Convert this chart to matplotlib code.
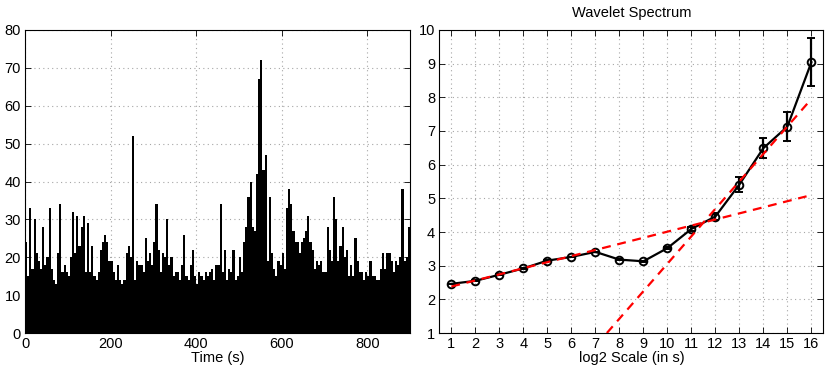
import matplotlib.pyplot as plt
import numpy as np

plt.rcParams['font.family'] = ['Liberation Sans', 'DejaVu Sans']

# Left panel: counts per 5 s bin
bin_width = 5
counts = [
    24, 15, 33, 17, 30, 21, 19, 17, 28, 18,   # 0-45
    20, 33, 17, 14, 13, 21, 34, 16, 18, 16,   # 50-95
    15, 20, 32, 21, 31, 23, 28, 31, 16, 29,   # 100-145
    16, 23, 15, 14, 16, 22, 24, 26, 24, 19,   # 150-195
    19, 16, 14, 18, 14, 13, 14, 21, 23, 20,   # 200-245
    52, 14, 19, 18, 18, 16, 25, 19, 21, 18,   # 250-295
    24, 34, 22, 16, 21, 20, 30, 18, 20, 15,   # 300-345
    16, 16, 14, 18, 26, 15, 14, 18, 22, 15,   # 350-395
    13, 16, 15, 14, 16, 15, 16, 17, 14, 18,   # 400-445
    18, 34, 16, 22, 14, 17, 16, 22, 14, 15,   # 450-495
    20, 16, 24, 28, 36, 40, 28, 27, 42, 67,   # 500-545
    72, 43, 47, 19, 36, 21, 17, 15, 19, 18,   # 550-595
    21, 17, 33, 38, 34, 27, 24, 24, 21, 24,   # 600-645
    25, 27, 31, 24, 22, 17, 19, 18, 19, 16,   # 650-695
    16, 28, 22, 19, 36, 30, 19, 23, 28, 20,   # 700-745
    22, 15, 18, 15, 25, 19, 16, 16, 14, 16,   # 750-795
    15, 19, 15, 15, 14, 14, 17, 21, 17, 21,   # 800-845
    21, 19, 16, 19, 18, 20, 38, 19, 20, 28,   # 850-895
]
times = np.arange(len(counts)) * bin_width

# Right panel: wavelet spectrum
scales = np.arange(1, 17)
spectrum = [2.46, 2.55, 2.73, 2.92, 3.15, 3.26, 3.41, 3.18,
            3.13, 3.52, 4.09, 4.46, 5.41, 6.49, 7.13, 9.04]
spec_err = [0.01, 0.01, 0.01, 0.01, 0.01, 0.01, 0.01, 0.01,
            0.02, 0.03, 0.05, 0.11, 0.21, 0.30, 0.42, 0.71]
fit_small_x = [1, 15.8]
fit_small_y = [2.38, 5.06]
fit_large_x = [7.48, 16]
fit_large_y = [1.0, 7.95]

fig = plt.figure(figsize=(8.31, 3.73), dpi=100)
ax1 = fig.add_axes([0.0301, 0.1072, 0.4633, 0.8124])
ax2 = fig.add_axes([0.5287, 0.1072, 0.4621, 0.8124])

ax1.bar(times, counts, width=bin_width, align='edge', color='k', linewidth=0)
ax1.set_xlim(0, 900)
ax1.set_ylim(0, 80)
ax1.set_xticks(np.arange(0, 801, 200))
ax1.set_yticks(np.arange(0, 81, 10))
ax1.set_xlabel('Time (s)', fontsize=10.5, labelpad=0)

ax2.errorbar(scales, spectrum, yerr=spec_err, color='k', lw=1.6, marker='o',
             ms=5.5, mfc='none', mew=1.4, capsize=3, capthick=1.4, zorder=3)
ax2.plot(fit_small_x, fit_small_y, color='red', ls='--', lw=1.6, dashes=(4, 3), zorder=4)
ax2.plot(fit_large_x, fit_large_y, color='red', ls='--', lw=1.6, dashes=(4, 3), zorder=4)
ax2.set_xlim(0.5, 16.5)
ax2.set_ylim(1, 10)
ax2.set_xticks(scales)
ax2.set_yticks(np.arange(1, 11))
ax2.set_xlabel('log2 Scale (in s)', fontsize=10.5, labelpad=0)
ax2.set_title('Wavelet Spectrum', fontsize=10.5, pad=9)

for ax in (ax1, ax2):
    ax.set_axisbelow(True)
    ax.grid(True, ls=(0, (1, 3)), color='0.65', lw=0.8)
    ax.tick_params(direction='in', top=True, right=True, labelsize=10.5,
                   length=4, width=0.6, pad=3)
    for s in ax.spines.values():
        s.set_linewidth(0.8)

fig.savefig('out.png', dpi=100)
